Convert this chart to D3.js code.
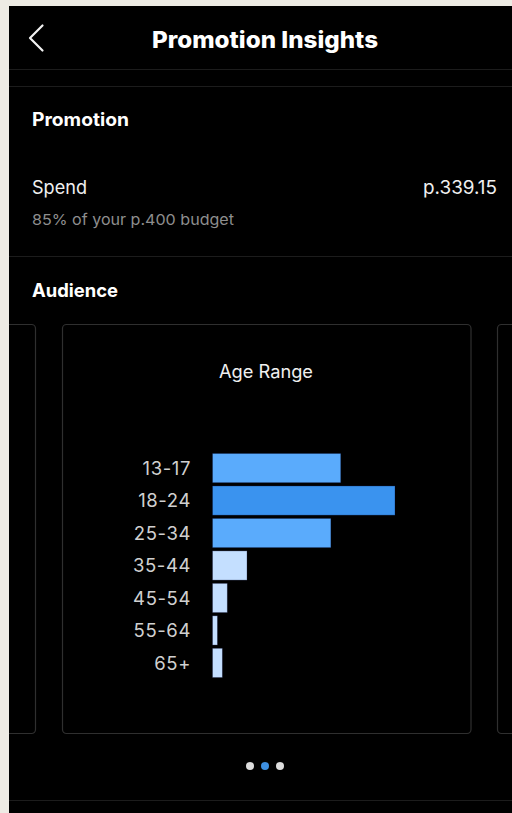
<!DOCTYPE html>
<html>
<head>
<meta charset="utf-8">
<script src="https://cdn.jsdelivr.net/npm/d3@7"></script>
<style>
html,body{margin:0;padding:0;background:#eeebe4;}
svg{display:block;}
</style>
</head>
<body>
<script>
const ageRanges = ["13-17","18-24","25-34","35-44","45-54","55-64","65+"];
const agePercent = [26, 37, 24, 7, 3, 1, 2];
const barColors = ["#5aabfc","#3a93ef","#5aabfc","#c4dfff","#c4dfff","#c4dfff","#c4dfff"];
const pageDots = ["#dcdcdc","#3d8fe0","#dcdcdc"];

const W = 512, H = 813;
const font = "Inter, 'Open Sans', Roboto, Arial, sans-serif";
const svg = d3.select("body").append("svg").attr("width", W).attr("height", H);

svg.append("rect").attr("x",0).attr("y",0).attr("width",W).attr("height",H).attr("fill","#eeebe4");
svg.append("rect").attr("x",9).attr("y",6).attr("width",W-9).attr("height",H-6).attr("fill","#000");

// header
svg.append("path").attr("d","M42.5,25.5 L30,38 L42.5,50.5").attr("fill","none")
  .attr("stroke","#f2f2f2").attr("stroke-width",2.2).attr("stroke-linecap","round").attr("stroke-linejoin","round");
svg.append("text").attr("x",265).attr("y",48).attr("text-anchor","middle")
  .attr("font-family",font).attr("font-weight",800).attr("font-size",22.5).attr("fill","#fff")
  .attr("textLength",226).attr("lengthAdjust","spacingAndGlyphs")
  .text("Promotion Insights");

[69, 86, 256, 800].forEach(y=>{
  svg.append("line").attr("x1",9).attr("x2",W).attr("y1",y+0.5).attr("y2",y+0.5)
    .attr("stroke","#1c1c1c").attr("stroke-width",1.2);
});

svg.append("text").attr("x",32).attr("y",126).attr("font-family",font).attr("font-weight",700)
  .attr("font-size",18.5).attr("fill","#fff").attr("textLength",97).attr("lengthAdjust","spacingAndGlyphs").text("Promotion");
svg.append("text").attr("x",32).attr("y",193.5).attr("font-family",font)
  .attr("font-size",18.5).attr("fill","#f0f0f0").attr("textLength",55).attr("lengthAdjust","spacingAndGlyphs").text("Spend");
svg.append("text").attr("x",497).attr("y",193.5).attr("text-anchor","end").attr("font-family",font)
  .attr("font-size",18.5).attr("fill","#f0f0f0").attr("textLength",74).attr("lengthAdjust","spacingAndGlyphs").text("p.339.15");
svg.append("text").attr("x",32).attr("y",225).attr("font-family",font)
  .attr("font-size",15).attr("fill","#8e8e8e").attr("textLength",202).attr("lengthAdjust","spacingAndGlyphs")
  .text("85% of your p.400 budget");

svg.append("text").attr("x",32).attr("y",297).attr("font-family",font).attr("font-weight",700)
  .attr("font-size",18.5).attr("fill","#fff").attr("textLength",86).attr("lengthAdjust","spacingAndGlyphs").text("Audience");

const cardStroke = "#2f2f2f";
svg.append("rect").attr("x",-30).attr("y",324.5).attr("width",65.5).attr("height",409).attr("rx",4)
  .attr("fill","none").attr("stroke",cardStroke).attr("stroke-width",1.2);
svg.append("rect").attr("x",62.5).attr("y",324.5).attr("width",408.5).attr("height",409).attr("rx",4)
  .attr("fill","none").attr("stroke",cardStroke).attr("stroke-width",1.2);
svg.append("rect").attr("x",497.5).attr("y",324.5).attr("width",80).attr("height",409).attr("rx",4)
  .attr("fill","none").attr("stroke",cardStroke).attr("stroke-width",1.2);
svg.append("rect").attr("x",0).attr("y",0).attr("width",9).attr("height",H).attr("fill","#eeebe4");

svg.append("text").attr("x",266).attr("y",378).attr("text-anchor","middle").attr("font-family",font)
  .attr("font-size",18).attr("fill","#f0f0f0").attr("textLength",94).attr("lengthAdjust","spacingAndGlyphs").text("Age Range");

// bar chart
const x = d3.scaleLinear().domain([0, d3.max(agePercent)]).range([212.5, 395]);
const y = d3.scaleBand().domain(ageRanges).range([452.5, 678.5]).paddingInner(0.1).paddingOuter(0.03);

svg.append("g").selectAll("rect.bar").data(ageRanges).join("rect").attr("class","bar")
  .attr("x", x(0))
  .attr("y", d=>y(d))
  .attr("width", (d,i)=>x(agePercent[i]) - x(0))
  .attr("height", y.bandwidth())
  .attr("fill", (d,i)=>barColors[i])
  .attr("stroke", "rgba(0,0,40,0.35)").attr("stroke-width",0.8);

const yAxis = d3.axisLeft(y).tickSize(0).tickPadding(0);
const ag = svg.append("g").attr("transform","translate(191,0)").call(yAxis);
ag.select(".domain").remove();
ag.selectAll("text").attr("font-family",font).attr("font-size",18.5).attr("fill","#d0d0d0")
  .attr("dy","0.36em").attr("letter-spacing","0.6px");

const dx = d3.scalePoint().domain([0,1,2]).range([250, 280]);
svg.selectAll("circle.dot").data(pageDots).join("circle").attr("class","dot")
  .attr("cx",(d,i)=>dx(i)).attr("cy",766).attr("r",4).attr("fill",d=>d);
</script>
</body>
</html>
